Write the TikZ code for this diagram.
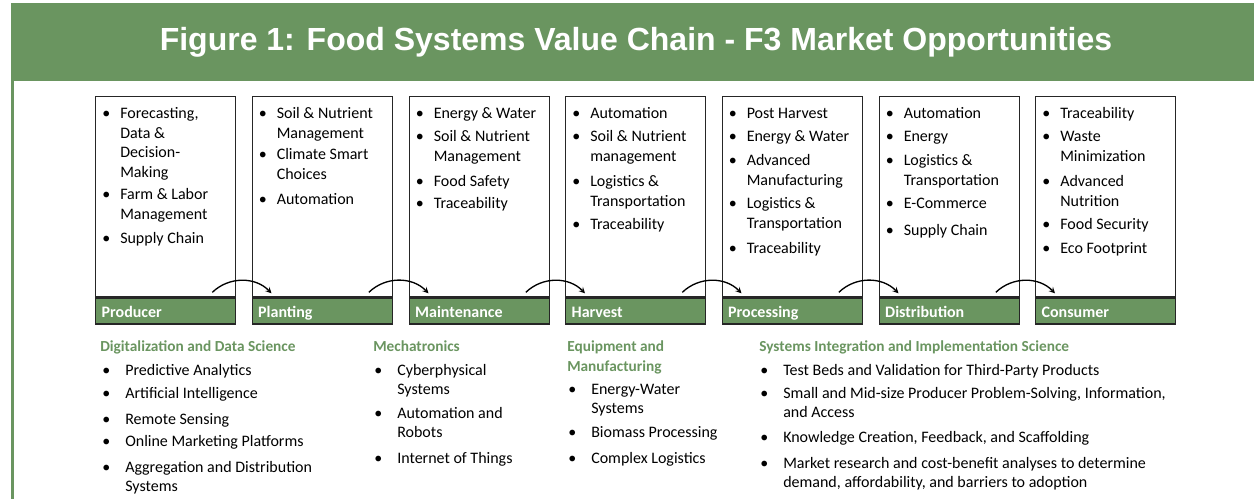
\documentclass[tikz,border=0pt]{standalone}
\usepackage{fontspec}
\setmainfont{Carlito}
\newfontfamily\titlefont{Liberation Sans}
\usetikzlibrary{arrows}
\definecolor{bandgreen}{RGB}{106,149,96}
\newcommand\boxbul{\llap{\textbullet\hspace{7.5pt}}}
\newcommand\areabul{\llap{\textbullet\hspace{11.25pt}}}
\newcommand\lines[1]{\begin{tabular}[t]{@{}l@{}}#1\end{tabular}}

\begin{document}
\begin{tikzpicture}[x=0.75pt,y=-0.75pt,
    stagebox/.style={draw=black!85,line width=1pt,anchor=north west,minimum width=105pt,minimum height=150pt,inner sep=0pt},
    stagelab/.style={draw=black!85,line width=1pt,fill=bandgreen,anchor=north west,minimum height=19.5pt,text width=96pt,text height=10.5pt,text depth=0.5pt,inner xsep=4.5pt,inner ysep=0pt,align=left,text=white,font=\fontsize{12pt}{14pt}\selectfont\bfseries},
    boxitem/.style={anchor=base west,inner sep=0pt,font=\fontsize{12pt}{14.6pt}\selectfont},
    areahead/.style={anchor=base west,inner sep=0pt,text=bandgreen,font=\fontsize{11.5pt}{15pt}\selectfont\bfseries},
    areaitem/.style={anchor=base west,inner sep=0pt,font=\fontsize{12pt}{14.6pt}\selectfont},
    flow/.style={-stealth,line width=1pt}]

      \useasboundingbox (0,0) rectangle (1254,499);
      \fill[bandgreen] (11,3) rectangle (1254,81);
      \draw[bandgreen,line width=2pt] (12.3,81) -- (12.3,499);
      \node[anchor=base,text=white,font=\titlefont\fontsize{24pt}{28pt}\selectfont\bfseries] (title) at (636,51)
        {Figure 1: Food Systems Value Chain - F3 Market Opportunities};

      \node[stagebox] (prodbox)  at (95,96)    {};
      \node[stagebox] (plantbox) at (251.5,96) {};
      \node[stagebox] (maintbox) at (408.5,96) {};
      \node[stagebox] (harvbox)  at (565,96)   {};
      \node[stagebox] (procbox)  at (721.5,96) {};
      \node[stagebox] (distbox)  at (878.5,96) {};
      \node[stagebox] (consbox)  at (1035,96)  {};

      \node[stagelab] (prodlab)  at (prodbox.south west)  {Producer};
      \node[stagelab] (plantlab) at (plantbox.south west) {Planting};
      \node[stagelab] (maintlab) at (maintbox.south west) {Maintenance};
      \node[stagelab] (harvlab)  at (harvbox.south west)  {Harvest};
      \node[stagelab] (proclab)  at (procbox.south west)  {Processing};
      \node[stagelab] (distlab)  at (distbox.south west)  {Distribution};
      \node[stagelab] (conslab)  at (consbox.south west)  {Consumer};

      \node[boxitem] (prod1) at (120,119) {\lines{\boxbul Forecasting,\\Data \&\\Decision-\\Making}};
      \node[boxitem] (prod2) at (120,200) {\lines{\boxbul Farm \& Labor\\Management}};
      \node[boxitem] (prod3) at (120,244) {\boxbul Supply Chain};

      \node[boxitem] (plant1) at (276.5,119) {\lines{\boxbul Soil \& Nutrient\\Management}};
      \node[boxitem] (plant2) at (276.5,160) {\lines{\boxbul Climate Smart\\Choices}};
      \node[boxitem] (plant3) at (276.5,205) {\boxbul Automation};

      \node[boxitem] (maint1) at (433.5,119) {\boxbul Energy \& Water};
      \node[boxitem] (maint2) at (433.5,142) {\lines{\boxbul Soil \& Nutrient\\Management}};
      \node[boxitem] (maint3) at (433.5,187) {\boxbul Food Safety};
      \node[boxitem] (maint4) at (433.5,209) {\boxbul Traceability};

      \node[boxitem] (harv1) at (590,119) {\boxbul Automation};
      \node[boxitem] (harv2) at (590,142) {\lines{\boxbul Soil \& Nutrient\\management}};
      \node[boxitem] (harv3) at (590,187) {\lines{\boxbul Logistics \&\\Transportation}};
      \node[boxitem] (harv4) at (590,230) {\boxbul Traceability};

      \node[boxitem] (proc1) at (746.5,119) {\boxbul Post Harvest};
      \node[boxitem] (proc2) at (746.5,142) {\boxbul Energy \& Water};
      \node[boxitem] (proc3) at (746.5,166) {\lines{\boxbul Advanced\\Manufacturing}};
      \node[boxitem] (proc4) at (746.5,209) {\lines{\boxbul Logistics \&\\Transportation}};
      \node[boxitem] (proc5) at (746.5,253) {\boxbul Traceability};

      \node[boxitem] (dist1) at (903.5,119) {\boxbul Automation};
      \node[boxitem] (dist2) at (903.5,142) {\boxbul Energy};
      \node[boxitem] (dist3) at (903.5,166) {\lines{\boxbul Logistics \&\\Transportation}};
      \node[boxitem] (dist4) at (903.5,209) {\boxbul E-Commerce};
      \node[boxitem] (dist5) at (903.5,236) {\boxbul Supply Chain};

      \node[boxitem] (cons1) at (1060,119) {\boxbul Traceability};
      \node[boxitem] (cons2) at (1060,142) {\lines{\boxbul Waste\\Minimization}};
      \node[boxitem] (cons3) at (1060,187) {\lines{\boxbul Advanced\\Nutrition}};
      \node[boxitem] (cons4) at (1060,230) {\boxbul Food Security};
      \node[boxitem] (cons5) at (1060,253) {\boxbul Eco Footprint};

      \draw[flow] ([shift={(-24,-5)}]prodlab.north east)  to[bend left=45] ([shift={(20,-4)}]plantlab.north west);
      \draw[flow] ([shift={(-24,-5)}]plantlab.north east) to[bend left=45] ([shift={(20,-4)}]maintlab.north west);
      \draw[flow] ([shift={(-24,-5)}]maintlab.north east) to[bend left=45] ([shift={(20,-4)}]harvlab.north west);
      \draw[flow] ([shift={(-24,-5)}]harvlab.north east)  to[bend left=45] ([shift={(20,-4)}]proclab.north west);
      \draw[flow] ([shift={(-24,-5)}]proclab.north east)  to[bend left=45] ([shift={(20,-4)}]distlab.north west);
      \draw[flow] ([shift={(-24,-5)}]distlab.north east)  to[bend left=45] ([shift={(20,-4)}]conslab.north west);

      \node[areahead] (digi)   at (100,351) {Digitalization and Data Science};
      \node[areahead] (mech)   at (373,351) {Mechatronics};
      \node[areahead] (equip)  at (567,351) {\lines{Equipment and\\Manufacturing}};
      \node[areahead] (sysint) at (759,351) {Systems Integration and Implementation Science};

      \node[areaitem] (digi1) at (125,375) {\areabul Predictive Analytics};
      \node[areaitem] (digi2) at (125,398) {\areabul Artificial Intelligence};
      \node[areaitem] (digi3) at (125,424) {\areabul Remote Sensing};
      \node[areaitem] (digi4) at (125,446) {\areabul Online Marketing Platforms};
      \node[areaitem] (digi5) at (125,472) {\lines{\areabul Aggregation and Distribution\\Systems}};

      \node[areaitem] (mech1) at (397,375) {\lines{\areabul Cyberphysical\\Systems}};
      \node[areaitem] (mech2) at (397,418) {\lines{\areabul Automation and\\Robots}};
      \node[areaitem] (mech3) at (397,463) {\areabul Internet of Things};

      \node[areaitem] (equip1) at (591,394) {\lines{\areabul Energy-Water\\Systems}};
      \node[areaitem] (equip2) at (591,437) {\areabul Biomass Processing};
      \node[areaitem] (equip3) at (591,463) {\areabul Complex Logistics};

      \node[areaitem] (sysint1) at (783,375) {\areabul Test Beds and Validation for Third-Party Products};
      \node[areaitem] (sysint2) at (783,398) {\lines{\areabul Small and Mid-size Producer Problem-Solving, Information,\\and Access}};
      \node[areaitem] (sysint3) at (783,442) {\areabul Knowledge Creation, Feedback, and Scaffolding};
      \node[areaitem] (sysint4) at (783,468) {\lines{\areabul Market research and cost-benefit analyses to determine\\demand, affordability, and barriers to adoption}};
    \end{tikzpicture}
\end{document}
